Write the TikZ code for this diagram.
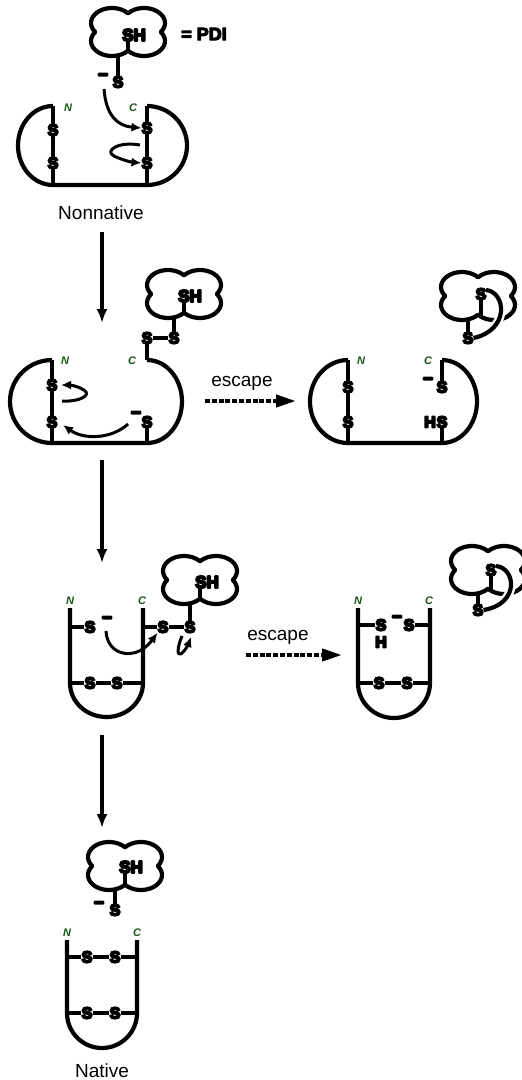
\documentclass[tikz,border=0pt]{standalone}
\usepackage{fontspec}
\setmainfont{Liberation Sans}
\newfontfamily\Sfont{Liberation Sans Bold}[FakeBold=12]
\newfontfamily\Pfont{Liberation Sans Bold}[FakeBold=6]
\usetikzlibrary{arrows.meta}
\definecolor{ngreen}{RGB}{25,85,25}
\newcommand\pdicloud[3]{%
  \begin{scope}[shift={(#1,#2)}]
    \coordinate (#3-c) at (0,0);
    \coordinate (#3-notch) at (0,18.7);
    \coordinate (#3-leg) at (-10,23);
    \draw[outline] (0,-18.72)
      arc[start angle=-139.63,end angle=36.87,x radius=21,y radius=15]
      arc[start angle=-36.87,end angle=139.63,x radius=21,y radius=15]
      arc[start angle=40.37,end angle=216.87,x radius=21,y radius=15]
      arc[start angle=143.13,end angle=319.63,x radius=21,y radius=15] -- cycle;
  \end{scope}}
\begin{document}
\begin{tikzpicture}[x=1pt,y=-1pt,line join=round,
  outline/.style={line width=4.2pt},
  bond/.style={line width=3.8pt},
  sat/.style={font=\Sfont\fontsize{16}{16}\selectfont,inner sep=0pt},
  shat/.style={font=\Sfont\fontsize{17}{17}\selectfont,inner sep=0pt},
  chg/.style={font=\Sfont\fontsize{17}{17}\selectfont,inner sep=0pt},
  lab/.style={font=\bfseries\itshape\fontsize{11}{11}\selectfont,text=ngreen,inner sep=0pt},
  bigtxt/.style={font=\fontsize{19}{19}\selectfont,inner sep=0pt},
  esctxt/.style={font=\fontsize{19}{19}\selectfont,inner sep=0pt},
  mech/.style={line width=3pt,-{Latex[length=10pt,width=9pt]}},
  downarr/.style={line width=3.2pt,-{Latex[length=14pt,width=11pt]}},
  esc/.style={line width=4pt,dash pattern=on 5pt off 1.8pt,-{Triangle[length=20pt,width=12pt]}},
  halo/.style={preaction={draw=white,line width=9pt}}]
\useasboundingbox (0,0) rectangle (522,1080);
\clip (0,0) rectangle (522,1080);

% ---------------- Row 1: Nonnative ----------------
\pdicloud{128}{32}{c1}
\node[shat] (SH1) at (134,35) {SH};
\draw[bond] (SH1.south -| c1-c) -- (c1-notch);
\node[font=\Pfont\fontsize{18}{18}\selectfont,inner sep=0pt] (pdi) at (204,34) {= PDI};
\node[sat] (S1a) at (118,82) {S};
\node[chg] (m1) at (103,77) {−};
\draw[bond] (c1-leg) -- (S1a);

\coordinate (p1Nt) at (53,106); \coordinate (p1Nb) at (53,185);
\coordinate (p1Ct) at (147,106); \coordinate (p1Cb) at (147,185);
\draw[outline] (p1Nt) arc[start angle=-90,end angle=-270,x radius=35,y radius=39.5]
  -- (p1Cb) arc[start angle=90,end angle=-90,x radius=40,y radius=39.5];
\node[sat] (p1s1) at (53,130) {S};
\node[sat] (p1s2) at (53,163) {S};
\node[sat] (p1s3) at (147,128) {S};
\node[sat] (p1s4) at (147,163) {S};
\draw[bond] (p1Nt) -- (p1s1) -- (p1s2) -- (p1Nb);
\draw[bond] (p1Ct) -- (p1s3) -- (p1s4) -- (p1Cb);
\node[lab] (p1N) at (68,108) {N};
\node[lab] (p1C) at (133,108) {C};
\coordinate (a1s) at (104,89);
\draw[mech] (a1s) .. controls (106,116) and (118,126) .. (p1s3.west);
\coordinate (a2s) at (140,145);
\coordinate (a2m) at (114,156);
\draw[mech] (a2s) .. controls (118,141) and (104,151) .. (a2m) .. controls (120,159) and (130,162) .. (p1s4.west);
\node[bigtxt] (t1) at (101,213) {Nonnative};

\coordinate (d1a) at (102,232); \coordinate (d1b) at (102,323);
\draw[downarr] (d1a) -- (d1b);

% ---------------- Row 2 left ----------------
\pdicloud{184}{294}{c2}
\node[shat] (SH2) at (190,296) {SH};
\draw[bond] (SH2.south -| c2-c) -- (c2-notch);
\node[sat] (p2t1) at (147,338) {S};
\node[sat] (p2t2) at (174,338) {S};
\draw[bond] (c2-leg) -- (p2t2) -- (p2t1);

\coordinate (p2Nt) at (52,360); \coordinate (p2Nb) at (52,443);
\coordinate (p2Ct) at (147,360); \coordinate (p2Cb) at (147,443);
\draw[outline] (p2Nt) arc[start angle=-90,end angle=-270,x radius=42,y radius=41.5]
  -- (p2Cb) arc[start angle=90,end angle=-90,x radius=35,y radius=41.5];
\node[sat] (p2s1) at (52,385) {S};
\node[sat] (p2s2) at (52,422) {S};
\node[sat] (p2s3) at (147,422) {S};
\node[chg] (m2) at (136,415) {−};
\draw[bond] (p2Nt) -- (p2s1) -- (p2s2) -- (p2Nb);
\draw[bond] (p2s3) -- (p2Cb);
\draw[bond] (p2Ct) -- (p2t1);
\node[lab] (p2N) at (65,361) {N};
\node[lab] (p2C) at (132,361) {C};
\coordinate (b1s) at (62,401); \coordinate (b1m) at (84,390); \coordinate (b1e) at (61,385);
\draw[mech] (b1s) .. controls (80,402) and (92,395) .. (b1m) .. controls (78,386) and (70,385) .. (b1e);
\coordinate (b2s) at (128,424); \coordinate (b2e) at (63,425);
\draw[mech] (b2s) .. controls (112,439) and (84,440) .. (b2e);

\node[esctxt] (e1) at (242,383) {escape};
\coordinate (e1a) at (205,401); \coordinate (e1b) at (296,401);
\draw[esc] (e1a) -- (e1b);

% ---------------- Row 2 right ----------------
\pdicloud{478}{296}{c3}
\node[sat] (c3s) at (481,294) {S};
\draw[bond] (c3s) -- (c3s |- c3-notch);
\node[sat] (c3o) at (468,338) {S};
\draw[bond] (c3-leg) -- (c3o);
\coordinate (c3a) at (486,290);
\draw[outline,halo] (c3a) .. controls (506,292) and (510,330) .. (c3o.east);

\coordinate (p3Nt) at (348,360); \coordinate (p3Nb) at (348,443);
\coordinate (p3Ct) at (442,360); \coordinate (p3Cb) at (442,443);
\draw[outline] (p3Nt) arc[start angle=-90,end angle=-270,x radius=38,y radius=41.5]
  -- (p3Cb) arc[start angle=90,end angle=-90,x radius=35,y radius=41.5];
\node[sat] (p3s1) at (348,387) {S};
\node[sat] (p3s2) at (348,422) {S};
\node[sat] (p3s3) at (442,387) {S};
\node[chg] (m3) at (428,381) {−};
\node[sat] (p3s4) at (442,422) {S};
\node[sat] (p3h) at (430,422) {H};
\draw[bond] (p3Nt) -- (p3s1) -- (p3s2) -- (p3Nb);
\draw[bond] (p3Ct) -- (p3s3);
\draw[bond] (p3s4) -- (p3Cb);
\node[lab] (p3N) at (361,361) {N};
\node[lab] (p3C) at (428,361) {C};

\coordinate (d2a) at (102,460); \coordinate (d2b) at (102,563);
\draw[downarr] (d2a) -- (d2b);

% ---------------- Row 3 left ----------------
\pdicloud{200}{580}{c4}
\node[shat] (SH4) at (207,582) {SH};
\draw[bond] (SH4.south -| c4-c) -- (c4-notch);

\coordinate (p4Nt) at (70,608); \coordinate (p4Nb) at (70,683);
\coordinate (p4Ct) at (143,608); \coordinate (p4Cb) at (143,683);
\draw[outline] (p4Nt) -- (p4Nb) arc[start angle=180,end angle=0,x radius=36.5,y radius=34] -- (p4Ct);
\node[sat] (p4b1) at (90,683) {S};
\node[sat] (p4b2) at (117,683) {S};
\draw[bond] (p4Nb) -- (p4b1) -- (p4b2) -- (p4Cb);
\coordinate (p4Lu) at (70,627); \coordinate (p4Ru) at (143,627);
\node[sat] (p4u1) at (90,627) {S};
\node[chg] (m4) at (107,620) {−};
\node[sat] (p4u2) at (163,627) {S};
\node[sat] (p4u3) at (190,627) {S};
\draw[bond] (p4Lu) -- (p4u1);
\draw[bond] (p4Ru) -- (p4u2) -- (p4u3) -- (c4-leg);
\node[lab] (p4N) at (70,601) {N};
\node[lab] (p4C) at (142,601) {C};
\coordinate (f1s) at (106,631);
\draw[mech] (f1s) .. controls (107,656) and (136,662) .. (p4u2.south west);
\coordinate (f2s) at (182,636); \coordinate (f2m) at (181,654); \coordinate (f2e) at (191,637);
\draw[mech] (f2s) .. controls (177,648) and (177,656) .. (f2m) .. controls (185,651) and (188,645) .. (f2e);

\node[esctxt] (e2) at (278,637) {escape};
\coordinate (e2a) at (246,655); \coordinate (e2b) at (342,655);
\draw[esc] (e2a) -- (e2b);

% ---------------- Row 3 right ----------------
\pdicloud{488}{570}{c5}
\node[sat] (c5s) at (491,570) {S};
\draw[bond] (c5s) -- (c5s |- c5-notch);
\node[sat] (c5o) at (478,610) {S};
\draw[bond] (c5-leg) -- (c5o);
\coordinate (c5a) at (496,566);
\draw[outline,halo] (c5a) .. controls (516,568) and (520,604) .. (c5o.east);

\coordinate (p5Nt) at (358,608); \coordinate (p5Nb) at (358,683);
\coordinate (p5Ct) at (430,608); \coordinate (p5Cb) at (430,683);
\draw[outline] (p5Nt) -- (p5Nb) arc[start angle=180,end angle=0,x radius=36,y radius=35] -- (p5Ct);
\node[sat] (p5b1) at (379,683) {S};
\node[sat] (p5b2) at (407,683) {S};
\draw[bond] (p5Nb) -- (p5b1) -- (p5b2) -- (p5Cb);
\coordinate (p5Lu) at (358,625); \coordinate (p5Ru) at (430,625);
\node[sat] (p5u1) at (381,625) {S};
\node[sat] (p5h) at (381,642) {H};
\node[chg] (m5) at (397,619) {−};
\node[sat] (p5u2) at (409,625) {S};
\draw[bond] (p5Lu) -- (p5u1);
\draw[bond] (p5u2) -- (p5Ru);
\node[lab] (p5N) at (358,601) {N};
\node[lab] (p5C) at (429,601) {C};

\coordinate (d3a) at (102,735); \coordinate (d3b) at (102,828);
\draw[downarr] (d3a) -- (d3b);

% ---------------- Row 4: Native ----------------
\pdicloud{125}{866}{c6}
\node[shat] (SH6) at (131,867) {SH};
\draw[bond] (SH6.south -| c6-c) -- (c6-notch);
\node[sat] (S6a) at (115,910) {S};
\node[chg] (m6) at (99,905) {−};
\draw[bond] (c6-leg) -- (S6a);

\coordinate (p6Nt) at (67,940); \coordinate (p6Nb) at (67,1013);
\coordinate (p6Ct) at (137,940); \coordinate (p6Cb) at (137,1013);
\draw[outline] (p6Nt) -- (p6Nb) arc[start angle=180,end angle=0,x radius=35,y radius=35] -- (p6Ct);
\coordinate (p6Lu) at (67,957); \coordinate (p6Ru) at (137,957);
\node[sat] (p6u1) at (87,957) {S};
\node[sat] (p6u2) at (115,957) {S};
\node[sat] (p6b1) at (87,1013) {S};
\node[sat] (p6b2) at (115,1013) {S};
\draw[bond] (p6Lu) -- (p6u1) -- (p6u2) -- (p6Ru);
\draw[bond] (p6Nb) -- (p6b1) -- (p6b2) -- (p6Cb);
\node[lab] (p6N) at (67,933) {N};
\node[lab] (p6C) at (137,933) {C};
\node[bigtxt] (t2) at (102,1071) {Native};
\end{tikzpicture}
\end{document}
